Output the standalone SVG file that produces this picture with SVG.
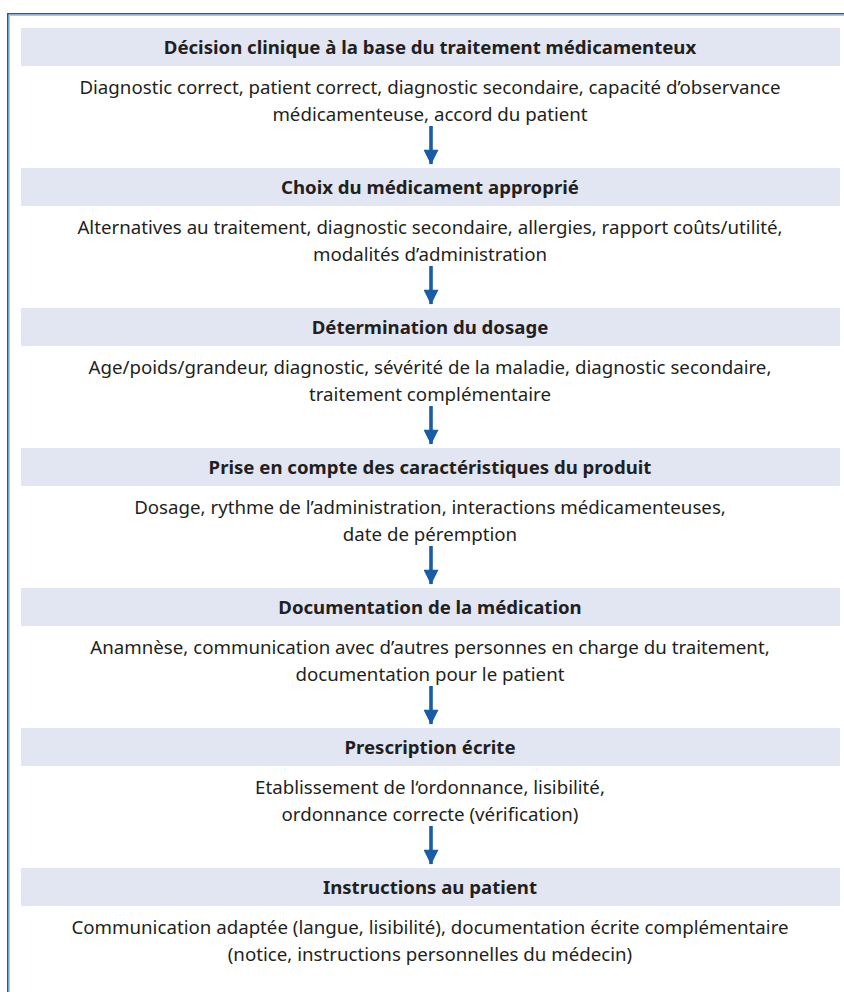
<svg xmlns="http://www.w3.org/2000/svg" width="844" height="992" viewBox="0 0 844 992">
<defs>
<style>
.bar{fill:#e2e6f3}
.h{font-family:"Noto Sans","Open Sans",sans-serif;font-weight:bold;font-size:18.6px;fill:#231f20;text-anchor:middle}
.t{font-family:"Noto Sans","Open Sans",sans-serif;font-size:18.7px;fill:#231f20;text-anchor:middle}
.arr{stroke:#1a5ca6;stroke-width:3.6;fill:none}
.head{fill:#1a5ca6}
</style>
<marker id="ah" viewBox="0 0 10 10" refX="9.5" refY="5" markerWidth="17" markerHeight="15" orient="auto" markerUnits="userSpaceOnUse">
<path d="M0,0 L10,5 L0,10 z" class="head"/>
</marker>
</defs>
<rect width="844" height="992" fill="#fff"/>
<g id="frame">
<path d="M7.8,992 V13.8 H844" fill="none" stroke="#1a5ca6" stroke-width="1.6"/>
<path d="M9.4,992 V15.4 H844" fill="none" stroke="#9fc3e6" stroke-width="1"/>
</g>
<g id="n1">
<rect class="bar" x="21" y="28" width="819" height="38"/>
<text class="h" x="430" y="54">Décision clinique à la base du traitement médicamenteux</text>
<text class="t" x="430" y="94">Diagnostic correct, patient correct, diagnostic secondaire, capacité d’observance</text>
<text class="t" x="430" y="120.5">médicamenteuse, accord du patient</text>
</g>
<g id="n2">
<rect class="bar" x="21" y="168" width="819" height="38"/>
<text class="h" x="430" y="194">Choix du médicament approprié</text>
<text class="t" x="430" y="234">Alternatives au traitement, diagnostic secondaire, allergies, rapport coûts/utilité,</text>
<text class="t" x="430" y="260.5">modalités d’administration</text>
</g>
<g id="n3">
<rect class="bar" x="21" y="308" width="819" height="38"/>
<text class="h" x="430" y="334">Détermination du dosage</text>
<text class="t" x="430" y="374">Age/poids/grandeur, diagnostic, sévérité de la maladie, diagnostic secondaire,</text>
<text class="t" x="430" y="400.5">traitement complémentaire</text>
</g>
<g id="n4">
<rect class="bar" x="21" y="448" width="819" height="38"/>
<text class="h" x="430" y="474">Prise en compte des caractéristiques du produit</text>
<text class="t" x="430" y="514">Dosage, rythme de l’administration, interactions médicamenteuses,</text>
<text class="t" x="430" y="540.5">date de péremption</text>
</g>
<g id="n5">
<rect class="bar" x="21" y="588" width="819" height="38"/>
<text class="h" x="430" y="614">Documentation de la médication</text>
<text class="t" x="430" y="654">Anamnèse, communication avec d’autres personnes en charge du traitement,</text>
<text class="t" x="430" y="680.5">documentation pour le patient</text>
</g>
<g id="n6">
<rect class="bar" x="21" y="728" width="819" height="38"/>
<text class="h" x="430" y="754">Prescription écrite</text>
<text class="t" x="430" y="794">Etablissement de l‘ordonnance, lisibilité,</text>
<text class="t" x="430" y="820.5">ordonnance correcte (vérification)</text>
</g>
<g id="n7">
<rect class="bar" x="21" y="868" width="819" height="38"/>
<text class="h" x="430" y="894">Instructions au patient</text>
<text class="t" x="430" y="934">Communication adaptée (langue, lisibilité), documentation écrite complémentaire</text>
<text class="t" x="430" y="960.5">(notice, instructions personnelles du médecin)</text>
</g>
<g id="connectors">
<path class="arr" d="M431,126 V164" marker-end="url(#ah)"/>
<path class="arr" d="M431,266 V304" marker-end="url(#ah)"/>
<path class="arr" d="M431,406 V444" marker-end="url(#ah)"/>
<path class="arr" d="M431,546 V584" marker-end="url(#ah)"/>
<path class="arr" d="M431,686 V724" marker-end="url(#ah)"/>
<path class="arr" d="M431,826 V864" marker-end="url(#ah)"/>
</g>
</svg>
